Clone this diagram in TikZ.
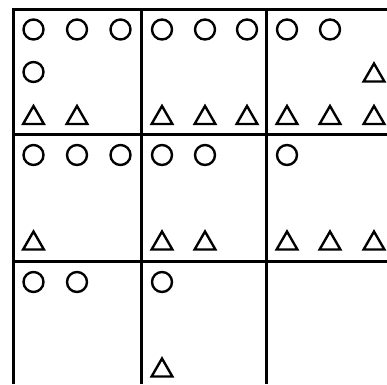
\documentclass[tikz,border=0pt]{standalone}
\usetikzlibrary{shapes.geometric}
\tikzset{
  tab/.style={x=1pt, y=-1pt, line width=3pt},
  ring/.style={circle, draw, line width=2.4pt, minimum size=20pt, inner sep=0pt},
  tri/.style={regular polygon, regular polygon sides=3, draw, line width=2.4pt, minimum size=24pt, inner sep=0pt, yshift=-3.5pt}
}
\begin{document}
\begin{tikzpicture}[tab]
\useasboundingbox (0,0) rectangle (387,384);
\clip (0,0) rectangle (387,384);
\draw (13,384) -- (13,9) -- (387,9);
\foreach \vx in {141,266} \draw (\vx,9) -- (\vx,384);
\foreach \hy in {134,261} \draw (13,\hy) -- (387,\hy);
% top row
\begin{scope}[shift={(13,9)}]
  \foreach \px [count=\i] in {20.5,64,107.5} \node[ring] (a-o\i) at (\px,20.5) {};
  \node[ring] (a-o4) at (20.5,63) {};
  \foreach \px [count=\i] in {20.5,64} \node[tri] (a-t\i) at (\px,105.5) {};
\end{scope}
\begin{scope}[shift={(141,9)}]
  \foreach \px [count=\i] in {21,64,106} \node[ring] (b-o\i) at (\px,20.5) {};
  \foreach \px [count=\i] in {21,64,106} \node[tri] (b-t\i) at (\px,105.5) {};
\end{scope}
\begin{scope}[shift={(266,9)}]
  \foreach \px [count=\i] in {21,64} \node[ring] (c-o\i) at (\px,20.5) {};
  \node[tri] (c-t4) at (108,63) {};
  \foreach \px [count=\i] in {21,64,108} \node[tri] (c-t\i) at (\px,105.5) {};
\end{scope}
% middle row
\begin{scope}[shift={(13,134)}]
  \foreach \px [count=\i] in {20.5,64,107.5} \node[ring] (d-o\i) at (\px,21) {};
  \node[tri] (d-t1) at (20.5,106) {};
\end{scope}
\begin{scope}[shift={(141,134)}]
  \foreach \px [count=\i] in {21,64} \node[ring] (e-o\i) at (\px,21) {};
  \foreach \px [count=\i] in {21,64} \node[tri] (e-t\i) at (\px,106) {};
\end{scope}
\begin{scope}[shift={(266,134)}]
  \node[ring] (f-o1) at (21,21) {};
  \foreach \px [count=\i] in {21,64,108} \node[tri] (f-t\i) at (\px,106) {};
\end{scope}
% bottom row
\begin{scope}[shift={(13,261)}]
  \foreach \px [count=\i] in {20.5,64} \node[ring] (g-o\i) at (\px,21) {};
\end{scope}
\begin{scope}[shift={(141,261)}]
  \node[ring] (h-o1) at (21,21) {};
  \node[tri] (h-t1) at (21,106) {};
\end{scope}
\end{tikzpicture}
\end{document}
